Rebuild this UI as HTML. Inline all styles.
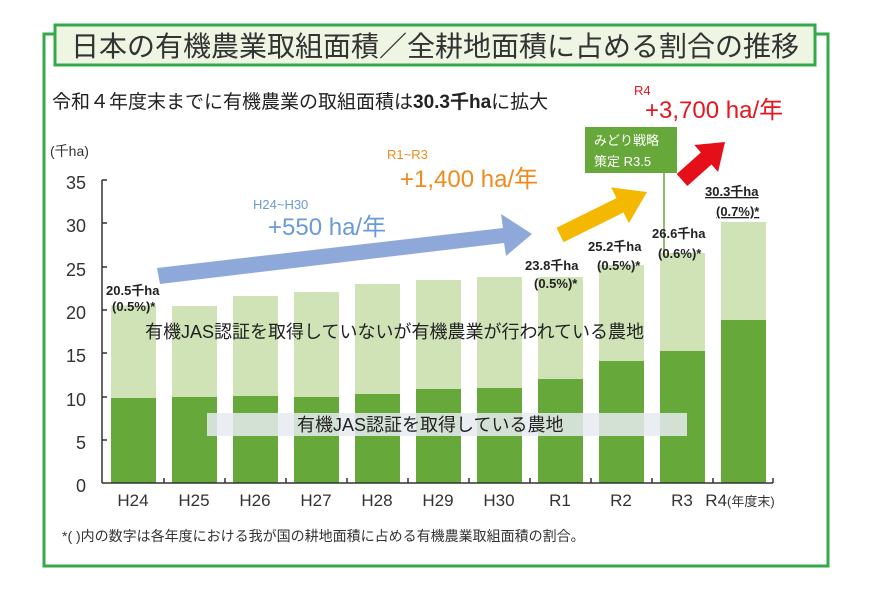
<!DOCTYPE html>
<html><head><meta charset="utf-8"><style>
body{margin:0;background:#fff;width:871px;height:586px;overflow:hidden}
svg text{font-family:"Liberation Sans","Noto Sans CJK JP",sans-serif}
</style></head><body>
<svg width="871" height="586" viewBox="0 0 871 586" xmlns="http://www.w3.org/2000/svg">
<polyline points="54,34 44,34 44,566 828,566 828,34 815,34" fill="none" stroke="#35a94a" stroke-width="3"/>
<rect x="55" y="25" width="760" height="40" fill="#eef5e3" stroke="#35a94a" stroke-width="3"/>
<text x="435" y="56" font-size="28" text-anchor="middle" fill="#333">日本の有機農業取組面積／全耕地面積に占める割合の推移</text>
<text x="52" y="108" font-size="19" fill="#222">令和４年度末までに有機農業の取組面積は<tspan font-weight="bold">30.3千ha</tspan>に拡大</text>
<text x="50" y="156" font-size="14" fill="#333">(千ha)</text>
<g font-size="18" fill="#333" text-anchor="end">
<text x="86" y="189">35</text><text x="86" y="232">30</text><text x="86" y="276">25</text><text x="86" y="319">20</text><text x="86" y="362">15</text><text x="86" y="406">10</text><text x="86" y="449">5</text><text x="86" y="492">0</text>
</g>
<g>
<rect x="111" y="305.5" width="45" height="177.5" fill="#cfe3b7"/><rect x="111" y="398" width="45" height="85" fill="#67a83a"/>
<rect x="172" y="306" width="45" height="177" fill="#cfe3b7"/><rect x="172" y="397" width="45" height="86" fill="#67a83a"/>
<rect x="233" y="296" width="45" height="187" fill="#cfe3b7"/><rect x="233" y="396" width="45" height="87" fill="#67a83a"/>
<rect x="294" y="292" width="45" height="191" fill="#cfe3b7"/><rect x="294" y="397" width="45" height="86" fill="#67a83a"/>
<rect x="355" y="284" width="45" height="199" fill="#cfe3b7"/><rect x="355" y="394" width="45" height="89" fill="#67a83a"/>
<rect x="416" y="280" width="45" height="203" fill="#cfe3b7"/><rect x="416" y="389" width="45" height="94" fill="#67a83a"/>
<rect x="477" y="277" width="45" height="206" fill="#cfe3b7"/><rect x="477" y="388" width="45" height="95" fill="#67a83a"/>
<rect x="538" y="277" width="45" height="206" fill="#cfe3b7"/><rect x="538" y="379" width="45" height="104" fill="#67a83a"/>
<rect x="599" y="265" width="45" height="218" fill="#cfe3b7"/><rect x="599" y="361" width="45" height="122" fill="#67a83a"/>
<rect x="660" y="253" width="45" height="230" fill="#cfe3b7"/><rect x="660" y="351" width="45" height="132" fill="#67a83a"/>
<rect x="721" y="222" width="45" height="261" fill="#cfe3b7"/><rect x="721" y="320" width="45" height="163" fill="#67a83a"/>
</g>
<g stroke="#333" stroke-width="1.5">
<line x1="102" y1="180" x2="102" y2="483"/><line x1="102" y1="483" x2="773" y2="483"/>
<line x1="102" y1="180" x2="107" y2="180"/><line x1="102" y1="223" x2="107" y2="223"/><line x1="102" y1="267" x2="107" y2="267"/><line x1="102" y1="310" x2="107" y2="310"/><line x1="102" y1="353" x2="107" y2="353"/><line x1="102" y1="397" x2="107" y2="397"/><line x1="102" y1="440" x2="107" y2="440"/>
<line x1="164" y1="478" x2="164" y2="483"/><line x1="225" y1="478" x2="225" y2="483"/><line x1="286" y1="478" x2="286" y2="483"/><line x1="347" y1="478" x2="347" y2="483"/><line x1="408" y1="478" x2="408" y2="483"/><line x1="469" y1="478" x2="469" y2="483"/><line x1="530" y1="478" x2="530" y2="483"/><line x1="591" y1="478" x2="591" y2="483"/><line x1="652" y1="478" x2="652" y2="483"/><line x1="713" y1="478" x2="713" y2="483"/><line x1="773" y1="478" x2="773" y2="483"/>
</g>
<g font-size="17" fill="#333" text-anchor="middle">
<text x="133" y="506">H24</text><text x="194" y="506">H25</text><text x="255" y="506">H26</text><text x="316" y="506">H27</text><text x="377" y="506">H28</text><text x="438" y="506">H29</text><text x="499" y="506">H30</text><text x="560" y="506">R1</text><text x="621" y="506">R2</text><text x="682" y="506">R3</text><text x="740" y="506">R4<tspan font-size="13">(年度末)</tspan></text>
</g>
<text x="62" y="541" font-size="14" fill="#333">*(  )内の数字は各年度における我が国の耕地面積に占める有機農業取組面積の割合。</text>
<text x="145" y="338" font-size="18" fill="#222">有機JAS認証を取得していないが有機農業が行われている農地</text>
<rect x="207" y="413" width="480" height="23" fill="#e6ebf0" opacity="0.85"/>
<text x="297" y="431" font-size="18" fill="#222">有機JAS認証を取得している農地</text>
<polygon points="157,268 503,228 501,214 532,234 506,256 504,243 160,284" fill="#8ea9d9"/>
<polygon points="556.5,227.8 616.5,198.1 611.1,187.4 647,192 628.9,223.2 623.5,212.5 563.5,242.2" fill="#f5b800"/>
<polygon points="676.7,174 700.9,152.5 694.3,145 725,142 718.1,172 711.5,164.5 687.3,186" fill="#e50f1a"/>
<text x="253" y="209" font-size="13" fill="#6a9bd6">H24~H30</text>
<text x="268" y="235" font-size="24" fill="#6a9bd6">+550 ha/年</text>
<text x="387" y="159" font-size="13" fill="#ef8b1e">R1~R3</text>
<text x="400" y="187" font-size="24" fill="#ef8b1e">+1,400 ha/年</text>
<text x="634" y="95" font-size="13" fill="#e5161e">R4</text>
<text x="645" y="118" font-size="24" fill="#e5161e">+3,700 ha/年</text>
<line x1="664" y1="172" x2="664" y2="255" stroke="#67a83a" stroke-width="1.5"/>
<rect x="585" y="127" width="92" height="46" fill="#67a83a"/>
<text x="594" y="145" font-size="13" fill="#fff">みどり戦略</text>
<text x="594" y="166" font-size="13" fill="#fff">策定 R3.5</text>
<g font-size="13" fill="#222" font-weight="bold">
<text x="106" y="295">20.5千ha</text><text x="112" y="311">(0.5%)*</text>
<text x="525" y="270">23.8千ha</text><text x="534" y="288">(0.5%)*</text>
<text x="588" y="251">25.2千ha</text><text x="597" y="270">(0.5%)*</text>
<text x="652" y="238">26.6千ha</text><text x="658" y="258">(0.6%)*</text>
<text x="705" y="196" text-decoration="underline">30.3千ha</text><text x="716" y="216" text-decoration="underline">(0.7%)*</text>
</g>
</svg>
</body></html>
